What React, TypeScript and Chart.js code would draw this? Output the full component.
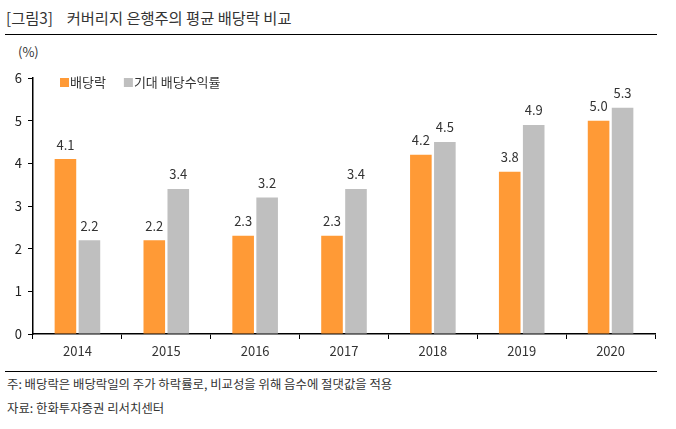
import React, { useEffect, useRef } from "react";
import { Chart, registerables } from "chart.js";

Chart.register(...registerables);

const years = ["2014", "2015", "2016", "2017", "2018", "2019", "2020"];
const exDividend = [4.1, 2.2, 2.3, 2.3, 4.2, 3.8, 5.0];
const expectedYield = [2.2, 3.4, 3.2, 3.4, 4.5, 4.9, 5.3];
const seriesNames = ["배당락", "기대 배당수익률"];
const yTicks = [0, 1, 2, 3, 4, 5, 6];

const ORANGE = "#FF9A36";
const GRAY = "#BFBFBF";
const FONT = "'Noto Sans CJK KR', 'Noto Sans', sans-serif";
const TEXT = "#333333";

// Value labels above each bar
const valueLabels = {
  id: "valueLabels",
  afterDatasetsDraw(chart: any) {
    const ctx = chart.ctx;
    ctx.save();
    ctx.font = `13px ${FONT}`;
    ctx.fillStyle = TEXT;
    ctx.textAlign = "center";
    ctx.textBaseline = "bottom";
    chart.data.datasets.forEach((ds: any, i: number) => {
      const meta = chart.getDatasetMeta(i);
      meta.data.forEach((bar: any, j: number) => {
        ctx.fillText(Number(ds.data[j]).toFixed(1), bar.x, bar.y - 8);
      });
    });
    ctx.restore();
  },
};

// Legend drawn inside the plot area, top-left
const insideLegend = {
  id: "insideLegend",
  afterDraw(chart: any) {
    const ctx = chart.ctx;
    const area = chart.chartArea;
    ctx.save();
    ctx.font = `13px ${FONT}`;
    ctx.textBaseline = "middle";
    ctx.textAlign = "left";
    let x = area.left + 27;
    const y = area.top + 4;
    const colors = [ORANGE, GRAY];
    seriesNames.forEach((name, i) => {
      ctx.fillStyle = colors[i];
      ctx.fillRect(x, y - 4, 9, 9);
      ctx.fillStyle = TEXT;
      ctx.fillText(name, x + 10, y);
      x += 10 + ctx.measureText(name).width + 18;
    });
    ctx.restore();
  },
};

export default function App() {
  const ref = useRef<HTMLCanvasElement | null>(null);

  useEffect(() => {
    if (!ref.current) return;
    const chart = new Chart(ref.current, {
      type: "bar",
      data: {
        labels: years,
        datasets: [
          { label: seriesNames[0], data: exDividend, backgroundColor: ORANGE },
          { label: seriesNames[1], data: expectedYield, backgroundColor: GRAY },
        ],
      },
      options: {
        animation: false,
        responsive: false,
        maintainAspectRatio: false,
        layout: { padding: { left: 0, right: 21, top: 38, bottom: 0 } },
        datasets: {
          bar: { categoryPercentage: 0.54, barPercentage: 0.9 },
        },
        plugins: {
          legend: { display: false },
          tooltip: { enabled: false },
          title: { display: false },
        },
        scales: {
          x: {
            grid: {
              display: true,
              drawOnChartArea: false,
              drawTicks: true,
              tickLength: 5,
              color: "#000",
              offset: true,
            },
            border: { display: true, color: "#000", width: 1.5 },
            ticks: {
              color: TEXT,
              font: { family: FONT, size: 13 },
              padding: 4,
            },
            afterFit: (s: any) => {
              s.height = 36;
            },
          },
          y: {
            min: 0,
            max: 6,
            afterBuildTicks: (s: any) => {
              s.ticks = yTicks.map((v) => ({ value: v }));
            },
            grid: {
              display: true,
              drawOnChartArea: false,
              drawTicks: true,
              tickLength: 5,
              color: "#000",
            },
            border: { display: true, color: "#000", width: 1.5 },
            ticks: {
              color: "#222",
              font: { family: FONT, size: 13 },
              padding: 6,
            },
            afterFit: (s: any) => {
              s.width = 33;
            },
          },
        },
      },
      plugins: [valueLabels, insideLegend],
    });
    return () => chart.destroy();
  }, []);

  return (
    <div
      style={{
        position: "absolute",
        left: 0,
        top: 0,
        width: 676,
        height: 429,
        background: "#fff",
        fontFamily: FONT,
        color: TEXT,
      }}
    >
      <div
        style={{
          position: "absolute",
          left: 6,
          top: 6,
          fontSize: 15.3,
          lineHeight: "22px",
          whiteSpace: "pre",
        }}
      >
        {"[그림3]    커버리지 은행주의 평균 배당락 비교"}
      </div>
      <div
        style={{
          position: "absolute",
          left: 5,
          top: 34,
          width: 652,
          height: 0,
          borderTop: "1.5px solid #000",
        }}
      />
      <div
        style={{
          position: "absolute",
          left: 18,
          top: 43,
          fontSize: 13,
          lineHeight: "18px",
        }}
      >
        (%)
      </div>
      <canvas
        ref={ref}
        width={676}
        height={330}
        style={{ position: "absolute", left: 0, top: 40, width: 676, height: 330 }}
      />
      <div
        style={{
          position: "absolute",
          left: 5,
          top: 371,
          width: 652,
          height: 0,
          borderTop: "1px solid #000",
        }}
      />
      <div
        style={{
          position: "absolute",
          left: 7,
          top: 375,
          fontSize: 12.4,
          lineHeight: "18px",
        }}
      >
        주: 배당락은 배당락일의 주가 하락률로, 비교성을 위해 음수에 절댓값을 적용
      </div>
      <div
        style={{
          position: "absolute",
          left: 7,
          top: 399,
          fontSize: 12.4,
          lineHeight: "18px",
        }}
      >
        자료: 한화투자증권 리서치센터
      </div>
    </div>
  );
}
